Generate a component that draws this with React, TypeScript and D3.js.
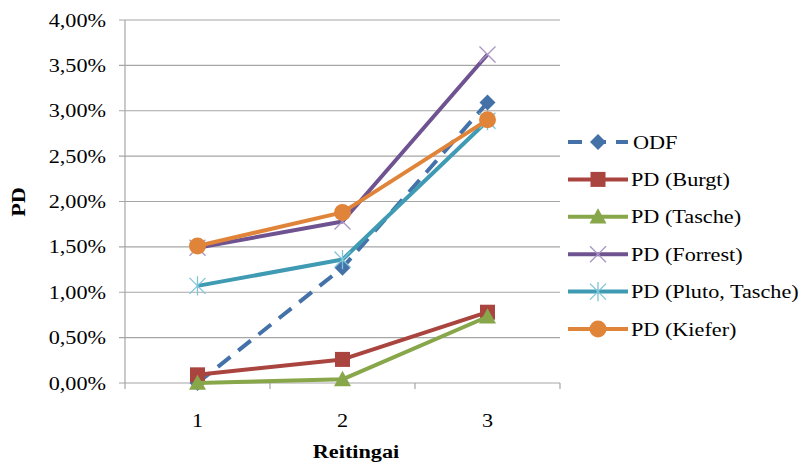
import React from "react";
import * as d3 from "d3";

const categories = ["1", "2", "3"];
const seriesNames = ["ODF", "PD (Burgt)", "PD (Tasche)", "PD (Forrest)", "PD (Pluto, Tasche)", "PD (Kiefer)"];
const odf = [0.0, 1.27, 3.09];
const burgt = [0.09, 0.26, 0.78];
const tasche = [0.0, 0.04, 0.73];
const forrest = [1.49, 1.78, 3.62];
const pluto = [1.07, 1.36, 2.89];
const kiefer = [1.51, 1.88, 2.9];
const yTicks = [0, 0.5, 1, 1.5, 2, 2.5, 3, 3.5, 4];

const colors = ["#4472A8", "#A9443F", "#88A64A", "#6F5390", "#3F9AB3", "#E0843A"];
const markers = ["diamond", "square", "triangle", "x", "star", "circle"];
const values = [odf, burgt, tasche, forrest, pluto, kiefer];

const W = 802, H = 462;
const left = 125, right = 560, top = 20, bottom = 383;
const SX = 1.17;

function Marker({ type, x, y, color }: { type: string; x: number; y: number; color: string }) {
  if (type === "diamond") {
    const s = 8;
    return <path d={`M${x},${y - s}L${x + s},${y}L${x},${y + s}L${x - s},${y}Z`} fill={color} />;
  }
  if (type === "square") {
    const s = 7.5;
    return <rect x={x - s} y={y - s} width={2 * s} height={2 * s} fill={color} />;
  }
  if (type === "triangle") {
    const s = 8.5;
    return <path d={`M${x},${y - s}L${x + s},${y + s * 0.8}L${x - s},${y + s * 0.8}Z`} fill={color} />;
  }
  if (type === "circle") {
    return <circle cx={x} cy={y} r={8.5} fill={color} />;
  }
  if (type === "x") {
    const s = 8;
    return (
      <path d={`M${x - s},${y - s}L${x + s},${y + s}M${x - s},${y + s}L${x + s},${y - s}`} stroke="#A995C4" strokeWidth={1.3} />
    );
  }
  const s = 8;
  return (
    <path
      d={`M${x - s},${y - s}L${x + s},${y + s}M${x - s},${y + s}L${x + s},${y - s}M${x},${y - s * 1.2}L${x},${y + s * 1.2}`}
      stroke="#7FC4D8"
      strokeWidth={1.3}
    />
  );
}

function T({ x, y, children, anchor = "start", size = 19, bold = false, rotate = 0 }: any) {
  return (
    <text
      transform={`translate(${x},${y}) rotate(${rotate}) scale(${SX},1)`}
      textAnchor={anchor}
      fontFamily="Liberation Serif, serif"
      fontSize={size}
      fontWeight={bold ? "bold" : "normal"}
      fill="#000"
    >
      {children}
    </text>
  );
}

export default function App() {
  const x = d3.scaleBand().domain(categories).range([left, right]);
  const y = d3.scaleLinear().domain([0, 4]).range([bottom, top]);
  const cx = (c: string) => (x(c) as number) + x.bandwidth() / 2;
  const line = d3
    .line<number>()
    .x((_, i) => cx(categories[i]))
    .y((v) => y(v));
  const fmt = (v: number) => v.toFixed(2).replace(".", ",") + "%";
  const legendY = (i: number) => 142 + i * 37.4;

  return (
    <svg width={W} height={H} style={{ position: "absolute", left: 0, top: 0 }}>
      <rect width={W} height={H} fill="#fff" />
      {yTicks.map((t) => (
        <g key={t}>
          <line x1={left - 6} x2={right} y1={y(t)} y2={y(t)} stroke="#A6A6A6" strokeWidth={1.2} />
          <T x={left - 19} y={y(t) + 6.5} anchor="end">
            {fmt(t)}
          </T>
        </g>
      ))}
      <line x1={left} x2={left} y1={top} y2={bottom} stroke="#A6A6A6" strokeWidth={1.2} />
      {[...categories.map((c) => x(c) as number), right].map((tx, i) => (
        <line key={i} x1={tx} x2={tx} y1={bottom} y2={bottom + 6} stroke="#A6A6A6" strokeWidth={1.2} />
      ))}
      {categories.map((c) => (
        <T key={c} x={cx(c)} y={bottom + 44} anchor="middle">
          {c}
        </T>
      ))}
      <T x={356} y={458} anchor="middle" bold size={19}>
        Reitingai
      </T>
      <T x={25} y={202} anchor="middle" bold size={19} rotate={-90}>
        PD
      </T>
      {values.map((vals, si) => (
        <g key={si}>
          <path
            d={line(vals) as string}
            fill="none"
            stroke={colors[si]}
            strokeWidth={4}
            strokeDasharray={si === 0 ? "16,10" : undefined}
            strokeLinejoin="round"
          />
          {vals.map((v, i) => (
            <Marker key={i} type={markers[si]} x={cx(categories[i])} y={y(v)} color={colors[si]} />
          ))}
        </g>
      ))}
      {seriesNames.map((n, i) => (
        <g key={n}>
          <line
            x1={568}
            x2={628}
            y1={legendY(i)}
            y2={legendY(i)}
            stroke={colors[i]}
            strokeWidth={4}
            strokeDasharray={i === 0 ? "14,10" : undefined}
          />
          <Marker type={markers[i]} x={598} y={legendY(i)} color={colors[i]} />
          <T x={i === 0 ? 633 : 631} y={legendY(i) + 6.5}>
            {n}
          </T>
        </g>
      ))}
    </svg>
  );
}
